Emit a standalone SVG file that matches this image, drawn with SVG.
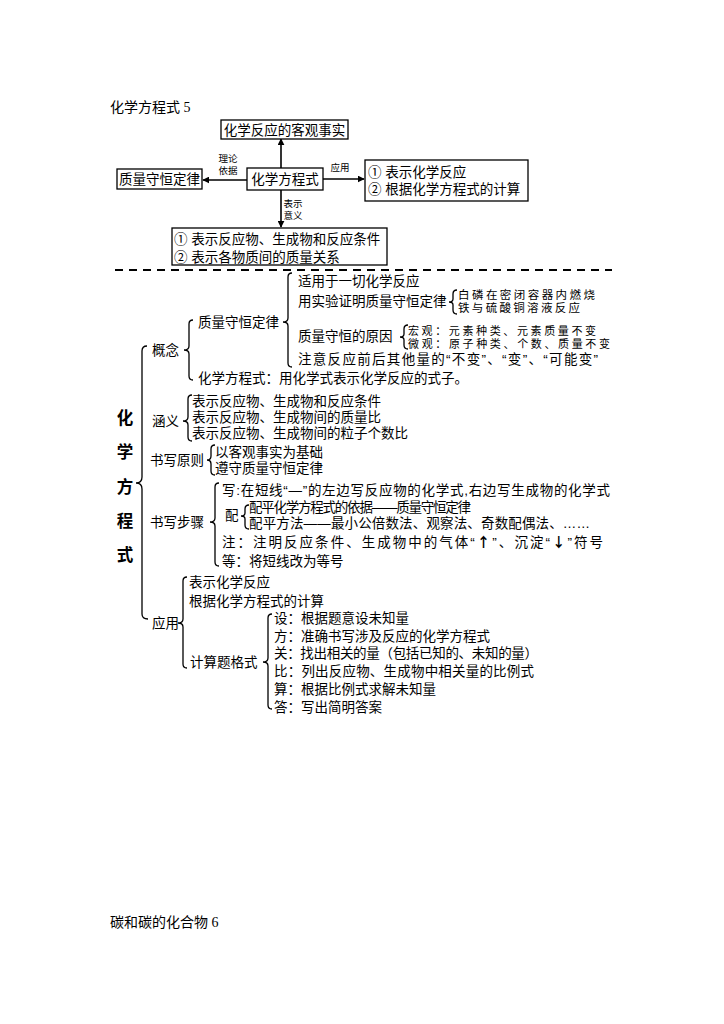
<svg xmlns="http://www.w3.org/2000/svg" width="724" height="1024" viewBox="0 0 724 1024">
<style>
text{font-family:"Liberation Sans","Noto Sans CJK SC",sans-serif;fill:#000;font-size:13.5px}
.t{font-family:"Liberation Serif","Noto Sans CJK SC",serif;font-size:14px}
.lb{font-size:9.5px}
.sm{font-size:11.5px}
.xs{font-size:11px}
.ar{font-family:"Noto Sans CJK SC",sans-serif;font-weight:bold}
.big{font-size:16.5px;font-weight:bold;text-anchor:middle}
.box{fill:#fff;stroke:#000;stroke-width:1.3}
.ln{stroke:#000;stroke-width:1.6;fill:none}
.br{stroke:#000;stroke-width:1.3;fill:none}
.c{text-anchor:middle}
</style>
<defs>
<marker id="ah" viewBox="0 0 10 10" refX="9" refY="5" markerWidth="7" markerHeight="7" markerUnits="userSpaceOnUse" orient="auto">
<path d="M0,0 L10,5 L0,10 Z" fill="#000"/>
</marker>
</defs>
<rect width="724" height="1024" fill="#fff"/>

<text class="t" x="110" y="112">化学方程式 5</text>
<text class="t" x="110" y="927">碳和碳的化合物 6</text>

<g id="connectors">
<line class="ln" x1="281" y1="168" x2="281" y2="139" marker-end="url(#ah)"/>
<line class="ln" x1="247" y1="180" x2="203" y2="180" marker-end="url(#ah)"/>
<line class="ln" x1="323" y1="179" x2="364" y2="179" stroke="#444" stroke-width="2" marker-end="url(#ah)"/>
<line class="ln" x1="281" y1="190" x2="281" y2="227" marker-end="url(#ah)"/>
<line x1="115" y1="270" x2="612" y2="270" stroke="#000" stroke-width="2" stroke-dasharray="8,6"/>
</g>

<g id="n-fact"><rect class="box" x="221" y="120" width="127" height="19"/><text class="c" x="284.5" y="134.5">化学反应的客观事实</text></g>
<g id="n-main"><rect class="box" x="247" y="168" width="76" height="22" stroke-width="1.6"/><text class="c" x="285" y="184">化学方程式</text></g>
<g id="n-law"><rect class="box" x="117" y="169" width="85" height="20"/><text class="c" x="159.5" y="184">质量守恒定律</text></g>
<g id="n-app"><rect class="box" x="365" y="160" width="163" height="41"/><text x="368" y="177">① 表示化学反应</text><text x="368" y="194">② 根据化学方程式的计算</text></g>
<g id="n-mean"><rect class="box" x="172" y="228" width="215" height="37"/><text x="174" y="244">① 表示反应物、生成物和反应条件</text><text x="174" y="262">② 表示各物质间的质量关系</text></g>
<g id="l-basis"><text class="lb c" x="228" y="162">理论</text><text class="lb c" x="228" y="174">依据</text></g>
<g id="l-use"><text class="lb c" x="340" y="171">应用</text></g>
<g id="l-sig"><text class="lb c" x="293" y="206.5">表示</text><text class="lb c" x="293" y="218.5">意义</text></g>

<g id="braces">
<path class="br" d="M147,346 Q142,346 142,351 L142,477 Q142,483 136,483 Q142,483 142,489 L142,614 Q142,619 148,619"/>
<path class="br" d="M193,320 Q189,320 189,324 L189,346 Q189,350 184,350 Q189,350 189,354 L189,376 Q189,380 193,380"/>
<path class="br" d="M292,273 Q288,273 288,277 L288,318 Q288,322 283,322 Q288,322 288,326 L288,363 Q288,367 292,367"/>
<path class="br" d="M457,290 Q453,290 453,294 L453,299 Q453,302 449,302 Q453,302 453,305 L453,310 Q453,314 457,314"/>
<path class="br" d="M408,325 Q404,325 404,329 L404,334 Q404,337 400,337 Q404,337 404,340 L404,345 Q404,349 408,349"/>
<path class="br" d="M192,395 Q188,395 188,399 L188,417 Q188,421 183,421 Q188,421 188,425 L188,437 Q188,441 192,441"/>
<path class="br" d="M215,445 Q211,445 211,449 L211,456 Q211,460 207,460 Q211,460 211,464 L211,471 Q211,475 215,475"/>
<path class="br" d="M219,483 Q215,483 215,487 L215,518 Q215,522 210,522 Q215,522 215,526 L215,562 Q215,566 219,566"/>
<path class="br" d="M249,505 Q245,505 245,509 L245,513 Q245,516 241,516 Q245,516 245,519 L245,525 Q245,529 249,529"/>
<path class="br" d="M187,577 Q183,577 183,581 L183,619 Q183,623 178,623 Q183,623 183,627 L183,664 Q183,668 187,668"/>
<path class="br" d="M272,614 Q268,614 268,618 L268,658 Q268,662 263,662 Q268,662 268,666 L268,705 Q268,709 272,709"/>
</g>

<g id="n-title"><text class="big" x="125" y="424">化</text><text class="big" x="125" y="458">学</text><text class="big" x="125" y="493">方</text><text class="big" x="125" y="527">程</text><text class="big" x="125" y="561">式</text></g>

<g id="n-concept"><text x="152" y="355">概念</text></g>
<g id="n-law2"><text x="198" y="327">质量守恒定律</text></g>
<g id="n-law-a"><text x="298" y="286">适用于一切化学反应</text></g>
<g id="n-law-b"><text x="298" y="306">用实验证明质量守恒定律</text></g>
<g id="n-law-b1"><text class="sm" x="458" y="299" textLength="137">白磷在密闭容器内燃烧</text><text class="sm" x="458" y="312" textLength="122">铁与硫酸铜溶液反应</text></g>
<g id="n-law-c"><text x="298" y="341">质量守恒的原因</text></g>
<g id="n-law-c1"><text class="xs" x="408" y="335" textLength="188">宏观：元素种类、元素质量不变</text><text class="xs" x="408" y="347.5" textLength="202">微观：原子种类、个数、质量不变</text></g>
<g id="n-law-d"><text x="298" y="364" textLength="300">注意反应前后其他量的“不变”、“变”、“可能变”</text></g>
<g id="n-eq"><text x="198" y="383">化学方程式：用化学式表示化学反应的式子。</text></g>

<g id="n-meaning"><text x="152" y="426">涵义</text></g>
<g id="n-meaning-items"><text x="192" y="406">表示反应物、生成物和反应条件</text><text x="192" y="422">表示反应物、生成物间的质量比</text><text x="192" y="437.5">表示反应物、生成物间的粒子个数比</text></g>

<g id="n-principle"><text x="150" y="465">书写原则</text></g>
<g id="n-principle-items"><text x="215" y="457">以客观事实为基础</text><text x="215" y="472.5">遵守质量守恒定律</text></g>

<g id="n-steps"><text x="150" y="527">书写步骤</text></g>
<g id="n-step-write"><text x="222" y="495" textLength="388">写:在短线“—”的左边写反应物的化学式,右边写生成物的化学式</text></g>
<g id="n-step-bal"><text x="225" y="520">配</text></g>
<g id="n-step-bal-items"><text x="249" y="511.5" textLength="222">配平化学方程式的依据——质量守恒定律</text><text x="249" y="528" textLength="341">配平方法——最小公倍数法、观察法、奇数配偶法、……</text></g>
<g id="n-step-note"><text x="222" y="547" textLength="381">注：注明反应条件、生成物中的气体“<tspan class="ar">↑</tspan>”、沉淀“<tspan class="ar">↓</tspan>”符号</text></g>
<g id="n-step-eq"><text x="222" y="566">等：将短线改为等号</text></g>

<g id="n-apply"><text x="152" y="628">应用</text></g>
<g id="n-apply-a"><text x="189" y="587">表示化学反应</text></g>
<g id="n-apply-b"><text x="189" y="606">根据化学方程式的计算</text></g>
<g id="n-format"><text x="190" y="667">计算题格式</text></g>
<g id="n-format-items">
<text x="274" y="623">设：根据题意设未知量</text>
<text x="274" y="641">方：准确书写涉及反应的化学方程式</text>
<text x="274" y="658" textLength="264">关：找出相关的量（包括已知的、未知的量）</text>
<text x="274" y="676" textLength="260">比：列出反应物、生成物中相关量的比例式</text>
<text x="274" y="694">算：根据比例式求解未知量</text>
<text x="274" y="712">答：写出简明答案</text>
</g>
</svg>
